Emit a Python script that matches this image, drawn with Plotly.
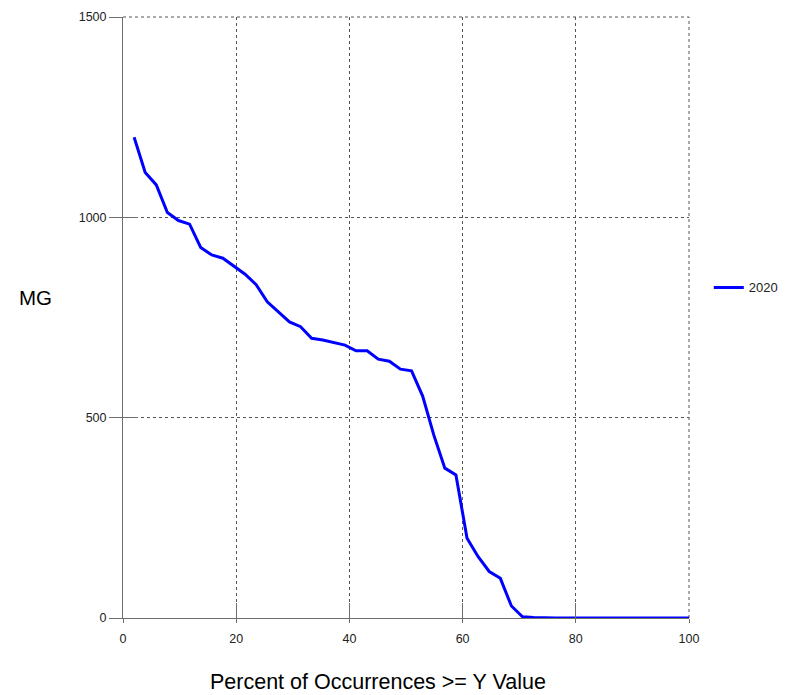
import plotly.graph_objects as go

# Percent of occurrences (rank i/51*100, i = 1..51)
percent = [round(i * 100 / 51, 3) for i in range(1, 52)]
mg_2020 = [1200, 1112, 1081, 1012, 992, 983, 925, 906, 898, 878,
           858, 832, 789, 764, 739, 727, 698, 694, 688, 681,
           667, 667, 646, 641, 621, 617, 554, 457, 374, 357,
           199, 153, 116, 99, 30, 3, 1, 0, 0, 0,
           0, 0, 0, 0, 0, 0, 0, 0, 0, 0, 0]

x_ticks = [0, 20, 40, 60, 80, 100]
y_ticks = [0, 500, 1000, 1500]
series_name = "2020"

font_fam = "Liberation Sans, Arial, sans-serif"

fig = go.Figure()
fig.add_trace(go.Scatter(x=percent, y=mg_2020, mode="lines", name=series_name,
                         line=dict(color="#0000FF", width=3)))
# helper trace so the inner tick axes are drawn
fig.add_trace(go.Scatter(x=[None], y=[None], xaxis="x2", yaxis="y2",
                         showlegend=False, hoverinfo="skip"))

axis_line = "#6e6e6e"
grid_col = "#555555"
x_range = [0, 100]
y_range = [0, 1500]

# page has an 8px body margin; figure sized to fit the window
fig.update_layout(
    width=782, height=687,
    margin=dict(l=115, r=101, t=9, b=77, autoexpand=False),
    paper_bgcolor="white", plot_bgcolor="white",
    font=dict(family=font_fam, size=12, color="#222222"),
    showlegend=True,
    legend=dict(x=1.035, y=0.55, xanchor="left", yanchor="middle",
                font=dict(size=13, family=font_fam, color="#222222"),
                itemwidth=30, bgcolor="rgba(0,0,0,0)"),
    xaxis=dict(range=x_range, tickvals=x_ticks, showgrid=True, gridcolor=grid_col,
               griddash="dot", gridwidth=1, zeroline=False, showline=True,
               linecolor=axis_line, linewidth=1, ticks="outside", ticklen=4,
               tickcolor=axis_line, tickfont=dict(size=12.5), ticklabelstandoff=5,
               automargin=False, fixedrange=True),
    yaxis=dict(range=y_range, tickvals=y_ticks, showgrid=True, gridcolor=grid_col,
               griddash="dot", gridwidth=1, zeroline=False, showline=True,
               linecolor=axis_line, linewidth=1, ticks="outside", ticklen=13,
               tickcolor=axis_line, tickfont=dict(size=12.5), automargin=False,
               fixedrange=True),
    xaxis2=dict(range=x_range, tickvals=x_ticks, overlaying="x", anchor="y",
                side="bottom", ticks="inside", ticklen=15, tickcolor=axis_line,
                showticklabels=False, showgrid=False, zeroline=False, showline=False,
                automargin=False),
    yaxis2=dict(range=y_range, tickvals=y_ticks, overlaying="y", anchor="x",
                side="left", ticks="inside", ticklen=15, tickcolor=axis_line,
                showticklabels=False, showgrid=False, zeroline=False, showline=False,
                automargin=False),
    shapes=[
        # dotted frame edges (top and right grid lines at the range ends)
        dict(type="line", xref="paper", yref="paper", x0=0, x1=1, y0=1, y1=1,
             line=dict(color=grid_col, width=1, dash="dot"), layer="below"),
        dict(type="line", xref="paper", yref="paper", x0=1, x1=1, y0=0, y1=1,
             line=dict(color=grid_col, width=1, dash="dot"), layer="below"),
    ],
    annotations=[
        dict(text="Percent of Occurrences >= Y Value", xref="paper", yref="paper",
             x=(378 - 123) / 566, y=-(682 - 618) / 601, xanchor="center", yanchor="middle",
             showarrow=False, font=dict(size=21.5, family=font_fam, color="#000000")),
        dict(text="MG", xref="paper", yref="paper",
             x=-(123 - 35) / 566, y=(618 - 297) / 601, xanchor="center", yanchor="middle",
             showarrow=False, font=dict(size=20.5, family=font_fam, color="#000000")),
    ],
)

fig.write_html("out.html")
